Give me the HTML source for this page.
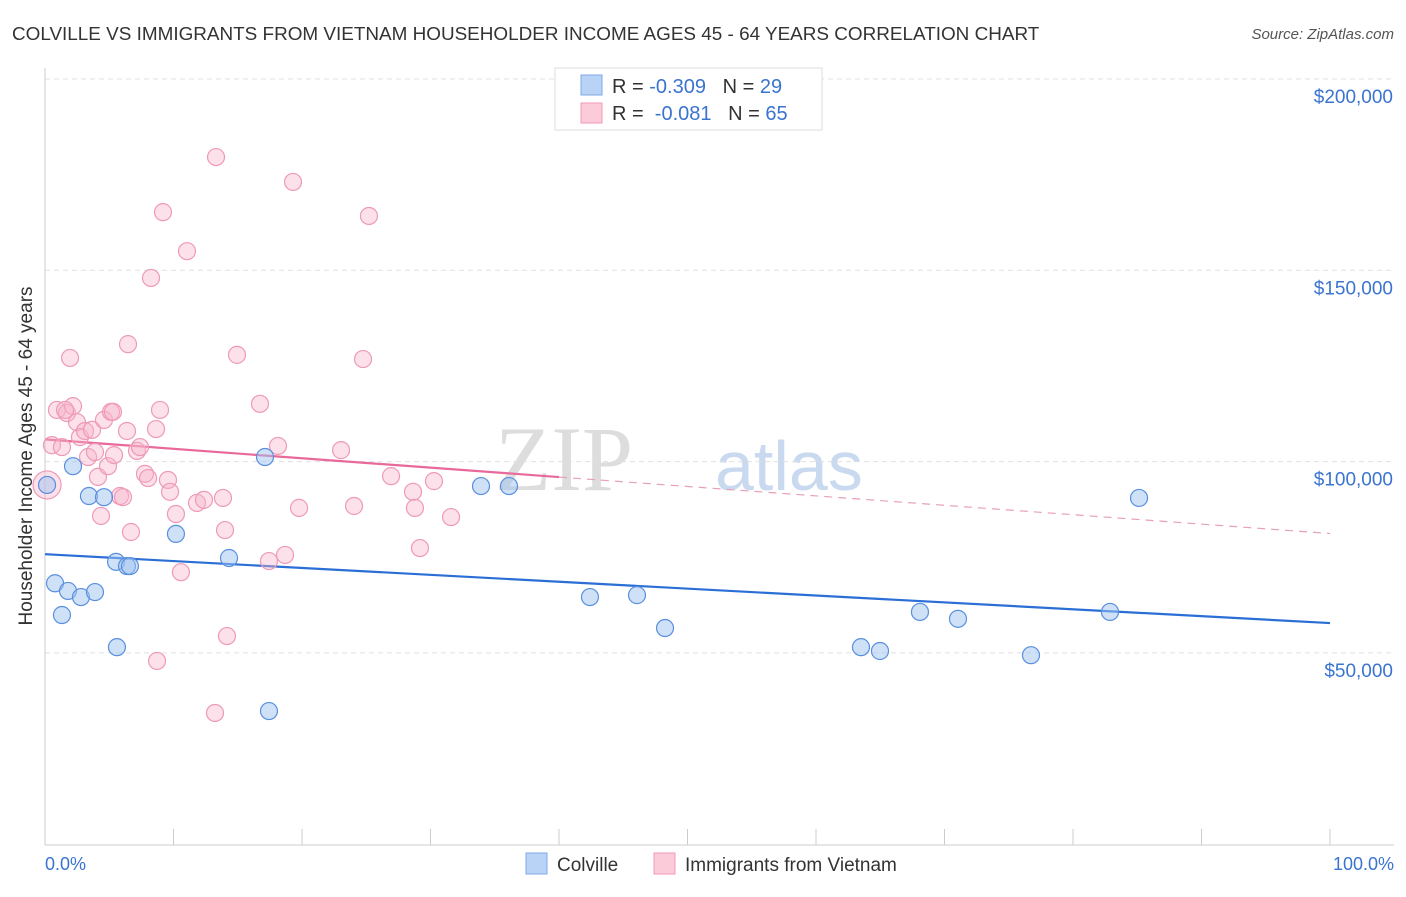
<!DOCTYPE html>
<html><head><meta charset="utf-8"><style>
body{margin:0;background:#fff;font-family:"Liberation Sans",sans-serif;}
svg text{font-family:"Liberation Sans",sans-serif;}
</style></head><body>
<svg id="c" width="1406" height="892" xmlns="http://www.w3.org/2000/svg">
<text x="12" y="40" font-size="18.9" fill="#333">COLVILLE VS IMMIGRANTS FROM VIETNAM HOUSEHOLDER INCOME AGES 45 - 64 YEARS CORRELATION CHART</text>
<text x="1394" y="39" font-size="15" fill="#555" font-style="italic" text-anchor="end">Source: ZipAtlas.com</text>
<text x="32" y="456" font-size="19" fill="#333" text-anchor="middle" transform="rotate(-90 32 456)">Householder Income Ages 45 - 64 years</text>
<g>
<text x="633" y="490" font-size="92" fill="#ddd" text-anchor="end" font-family="Liberation Serif" style="font-family:'Liberation Serif',serif">ZIP</text>
<text x="715" y="490" font-size="70" fill="#c9d9ef">atlas</text>
</g>
<g id="grid"></g><g id="axes"></g><g id="trend"></g><g id="pts"></g>
<g>
<rect x="555" y="68" width="267" height="62" fill="#fff" stroke="#ddd"/>
<rect x="581" y="75" width="21" height="20" fill="#b8d3f5" stroke="#7ea8e6"/>
<text x="612" y="93" font-size="20" fill="#333" xml:space="preserve">R = <tspan fill="#3a74d0">-0.309</tspan>   N = <tspan fill="#3a74d0">29</tspan></text>
<rect x="581" y="103" width="21" height="20" fill="#fccbda" stroke="#f09ab4"/>
<text x="612" y="120" font-size="20" fill="#333" xml:space="preserve">R =  <tspan fill="#3a74d0">-0.081</tspan>   N = <tspan fill="#3a74d0">65</tspan></text>
</g>
<g>
<rect x="526" y="853" width="21" height="21" fill="#b8d3f5" stroke="#7ea8e6"/>
<text x="557" y="871" font-size="19" fill="#333">Colville</text>
<rect x="654" y="853" width="21" height="21" fill="#fccbda" stroke="#f09ab4"/>
<text x="685" y="871" font-size="19" fill="#333">Immigrants from Vietnam</text>
</g>
<text x="45" y="870" font-size="18" fill="#3a74d0">0.0%</text>
<text x="1394" y="870" font-size="18" fill="#3a74d0" text-anchor="end">100.0%</text>
</svg>
<script>
const yTicks=[50000,100000,150000,200000];
const yTickLabels=["$50,000","$100,000","$150,000","$200,000"];
const blueX=[0.16,0.78,1.32,1.79,2.18,2.80,3.42,3.89,4.59,5.60,5.53,6.38,6.61,10.19,14.32,17.12,17.43,33.93,36.11,42.41,46.07,48.25,63.50,64.98,68.09,71.05,76.73,82.88,85.14];
const blueY=[93.9,68.2,59.9,66.2,98.8,64.6,91.0,65.9,90.7,51.5,73.8,72.7,72.7,81.1,74.8,101.2,34.8,93.6,93.6,64.6,65.1,56.5,51.5,50.5,60.7,58.9,49.4,60.7,90.5];
const pinkX=[0.16,0.54,0.93,1.32,1.71,1.95,2.18,2.49,2.72,3.11,3.35,3.66,3.89,4.12,4.36,4.59,4.90,5.14,5.37,5.84,6.07,6.38,6.46,6.69,7.16,7.39,7.78,8.02,8.25,8.64,8.72,8.95,9.18,9.57,9.73,10.19,10.58,11.05,11.83,12.37,13.31,13.23,13.85,14.01,14.16,14.94,16.73,17.43,18.13,18.68,19.30,19.77,23.04,24.05,24.75,25.21,26.93,28.64,28.79,29.18,30.27,31.60,1.56,5.29];
const pinkY=[93.9,104.3,113.5,103.8,112.7,127.1,114.5,110.3,106.4,108.0,101.2,108.3,102.5,96.0,85.8,110.9,98.8,113.0,101.7,91.0,90.7,108.0,130.7,81.6,102.8,103.8,96.8,95.7,148.0,108.5,47.9,113.5,165.2,95.2,92.1,86.3,71.1,155.0,89.2,90.0,179.6,34.3,90.5,82.1,54.4,127.9,115.1,74.0,104.1,75.6,173.1,87.9,103.0,88.4,126.8,164.2,96.2,92.1,87.9,77.4,94.9,85.5,113.5,113.0];
const blueTrend=[75.8,57.8];
const pinkTrend=[105.8,81.2];
const NS="http://www.w3.org/2000/svg";
const xs=p=>45+p*12.85;
const ys=v=>79+(200-v)*191.3/50;
function mk(t,a,p){const e=document.createElementNS(NS,t);for(const k in a)e.setAttribute(k,a[k]);document.getElementById(p).appendChild(e);return e;}
yTicks.forEach((t,i)=>{
 const g=mk('line',{x1:45,x2:1394,y1:ys(t/1000),y2:ys(t/1000),stroke:'#e0e0e0','stroke-dasharray':'5,4'},'grid');
 
 
 const l=mk('text',{x:1393,y:ys(t/1000)+24,'font-size':19,fill:'#3a74d0','text-anchor':'end'},'grid');
 l.textContent=yTickLabels[i];
 
 
});
const ax=mk('line',{x1:45,x2:45,y1:68,y2:845,stroke:'#ccc'},'axes');


const bx=mk('line',{x1:45,x2:1394,y1:845,y2:845,stroke:'#ccc'},'axes');


for(let i=0;i<=10;i++){const t=mk('line',{x1:xs(i*10),x2:xs(i*10),y1:829,y2:845,stroke:'#ccc'},'axes');
 
 }
const bt=mk('line',{x1:xs(0),x2:xs(100),y1:ys(blueTrend[0]),y2:ys(blueTrend[1]),stroke:'#2a6ed6','stroke-width':2.2},'trend');


const py=p=>pinkTrend[0]+(pinkTrend[1]-pinkTrend[0])*p/100;
const pt=mk('line',{x1:xs(0),x2:xs(40),y1:ys(py(0)),y2:ys(py(40)),stroke:'#e8699a','stroke-width':2.2},'trend');


const pd=mk('line',{x1:xs(40),x2:xs(100),y1:ys(py(40)),y2:ys(py(100)),stroke:'#e8a0b8','stroke-width':1.2,'stroke-dasharray':'8,6'},'trend');


pinkX.forEach((x,i)=>{const c=mk('circle',{cx:xs(x),cy:ys(pinkY[i]),r:i==0?14:8.5,fill:'rgba(248,180,202,0.4)',stroke:'#ee9ab6','stroke-width':1.2},'pts');
 
 });
blueX.forEach((x,i)=>{const c=mk('circle',{cx:xs(x),cy:ys(blueY[i]),r:8.5,fill:'rgba(160,195,240,0.5)',stroke:'#5a8fe0','stroke-width':1.2},'pts');
 
 });
</script>
</body></html>
